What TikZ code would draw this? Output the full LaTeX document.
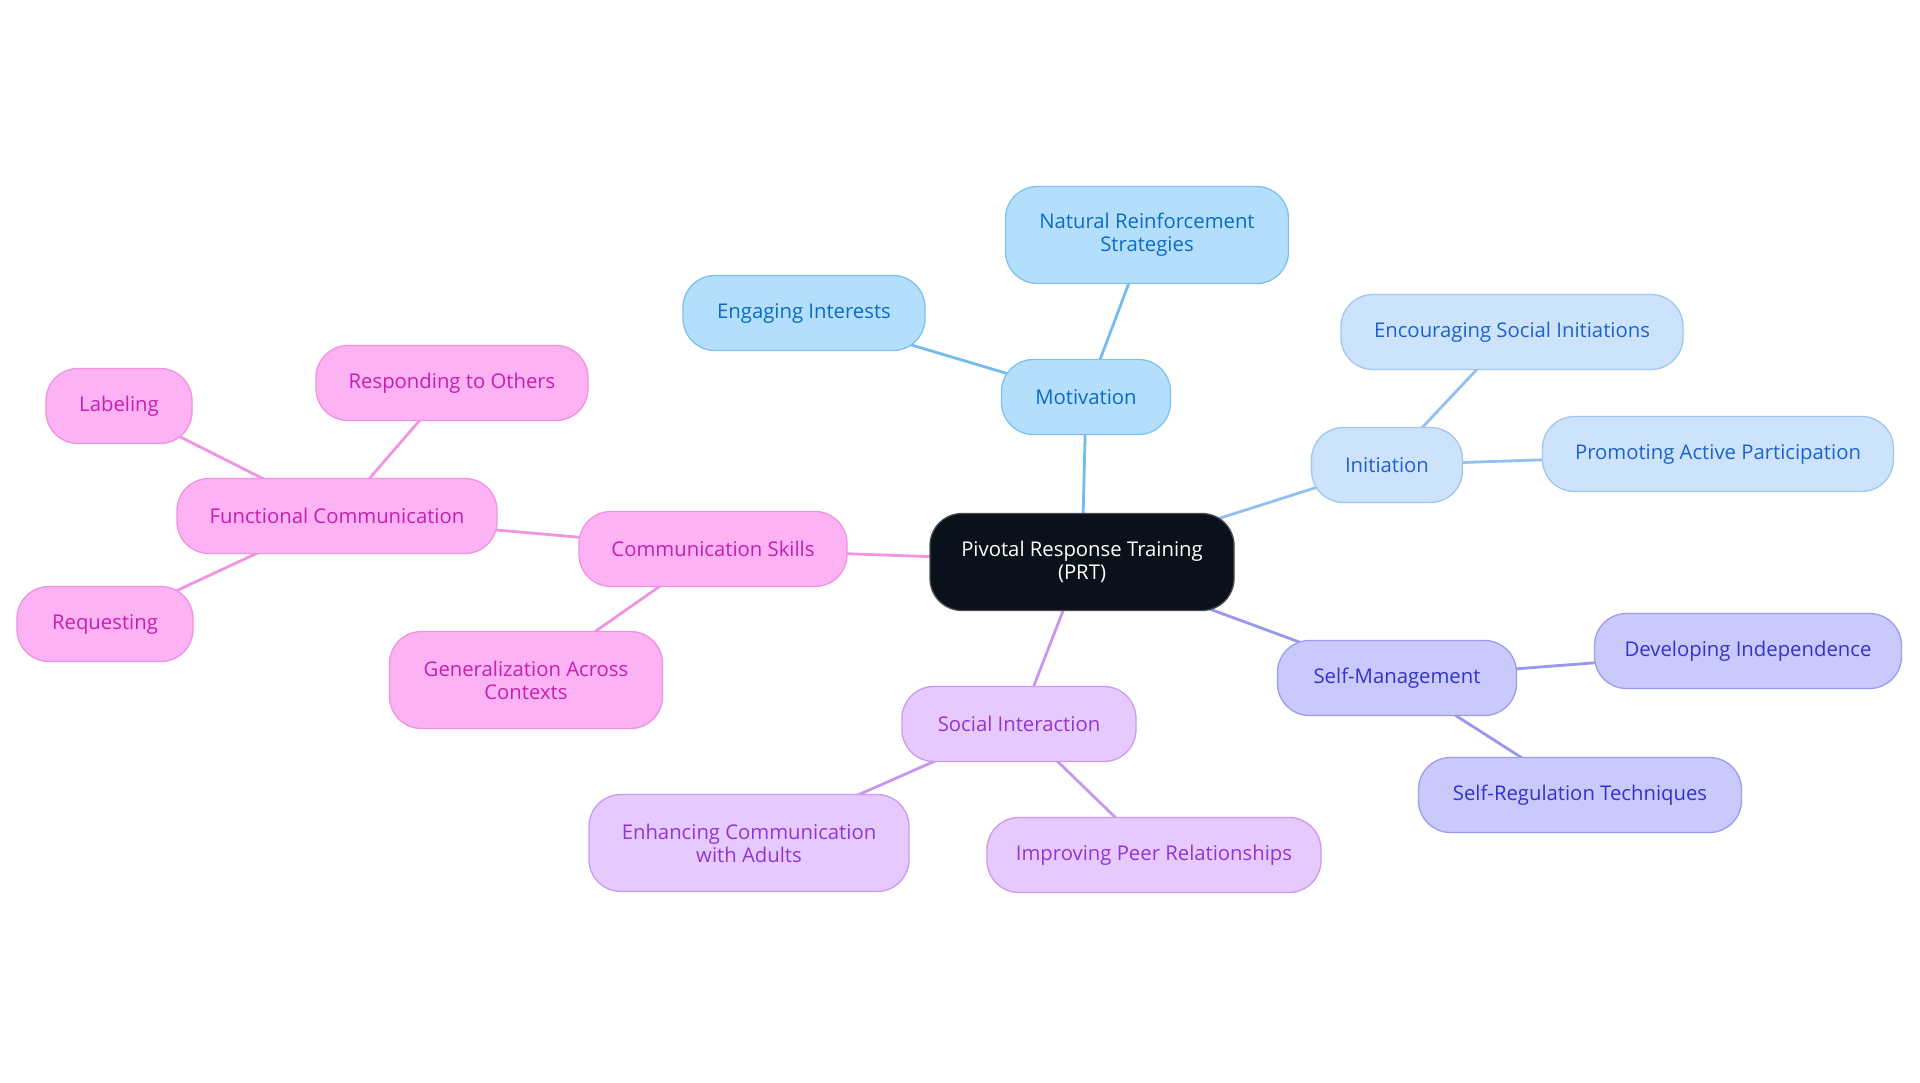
\documentclass[tikz,border=0pt]{standalone}
\usepackage{fontspec}
\setmainfont{Open Sans}
\usetikzlibrary{backgrounds}
\definecolor{cfill}{HTML}{0B111A}
\definecolor{mfill}{HTML}{B3DFFD}\definecolor{mdraw}{HTML}{7DC1F0}\definecolor{mtext}{HTML}{0B6BC4}\definecolor{mline}{HTML}{72BCEE}
\definecolor{ifill}{HTML}{CDE3FB}\definecolor{idraw}{HTML}{A0C7F0}\definecolor{itext}{HTML}{1D62C9}\definecolor{iline}{HTML}{92C0F2}
\definecolor{sfill}{HTML}{C9C9FC}\definecolor{sdraw}{HTML}{9B9CF0}\definecolor{stext}{HTML}{3333CC}\definecolor{sline}{HTML}{9898F2}
\definecolor{pfill}{HTML}{E6CAFD}\definecolor{pdraw}{HTML}{CC99F2}\definecolor{ptext}{HTML}{9234D6}\definecolor{pline}{HTML}{C895F0}
\definecolor{kfill}{HTML}{FDB3F3}\definecolor{kdraw}{HTML}{F191E2}\definecolor{ktext}{HTML}{C71DB3}\definecolor{kline}{HTML}{F294E2}
\tikzset{
  box/.style={rectangle, rounded corners=32pt, line width=1.3pt, align=center, inner sep=0pt,
    minimum height=75pt, font=\fontsize{20.3}{23}\selectfont},
  root/.style={box, fill=cfill, draw=black!70, text=white, minimum height=97pt},
  mot/.style={box, fill=mfill, draw=mdraw, text=mtext},
  ini/.style={box, fill=ifill, draw=idraw, text=itext},
  sm/.style={box, fill=sfill, draw=sdraw, text=stext},
  soc/.style={box, fill=pfill, draw=pdraw, text=ptext},
  com/.style={box, fill=kfill, draw=kdraw, text=ktext},
  tall/.style={minimum height=97pt},
  link/.style={line width=2.8pt},
}
\begin{document}
\begin{tikzpicture}[x=1pt,y=-1pt]
\useasboundingbox (0,0) rectangle (1920,1083);
\node[root, minimum width=304pt] (c) at (1082,562) {Pivotal Response Training\\(PRT)};
\node[mot, minimum width=169pt] (m) at (1086,397) {Motivation};
\node[mot, tall, minimum width=283pt] (nrs) at (1147,235) {Natural Reinforcement\\Strategies};
\node[mot, minimum width=242pt] (eng) at (804,313) {Engaging Interests};
\node[ini, minimum width=151pt] (i) at (1387,465) {Initiation};
\node[ini, minimum width=342pt] (esi) at (1512,332) {Encouraging Social Initiations};
\node[ini, minimum width=351pt] (pap) at (1718,454) {Promoting Active Participation};
\node[sm, minimum width=239pt] (s) at (1397,678) {Self-Management};
\node[sm, minimum width=307pt] (di) at (1748,651) {Developing Independence};
\node[sm, minimum width=323pt] (srt) at (1580,795) {Self-Regulation Techniques};
\node[soc, minimum width=234pt] (si) at (1019,724) {Social Interaction};
\node[soc, tall, minimum width=320pt] (eca) at (749,843) {Enhancing Communication\\with Adults};
\node[soc, minimum width=334pt] (ipr) at (1154,855) {Improving Peer Relationships};
\node[com, minimum width=268pt] (cs) at (713,549) {Communication Skills};
\node[com, minimum width=320pt] (fc) at (337,516) {Functional Communication};
\node[com, tall, minimum width=273pt] (gac) at (526,680) {Generalization Across\\Contexts};
\node[com, minimum width=272pt] (rto) at (452,383) {Responding to Others};
\node[com, minimum width=146pt] (lab) at (119,406) {Labeling};
\node[com, minimum width=176pt] (req) at (105,624) {Requesting};
\begin{scope}[on background layer]
\fill[white] (0,0) rectangle (1920,1083);
\draw[link, mline] (c.center) -- (m.center);
\draw[link, mline] (m.center) -- (nrs.center);
\draw[link, mline] (m.center) -- (eng.center);
\draw[link, iline] (c.center) -- (i.center);
\draw[link, iline] (i.center) -- (esi.center);
\draw[link, iline] (i.center) -- (pap.center);
\draw[link, sline] (c.center) -- (s.center);
\draw[link, sline] (s.center) -- (di.center);
\draw[link, sline] (s.center) -- (srt.center);
\draw[link, pline] (c.center) -- (si.center);
\draw[link, pline] (si.center) -- (eca.center);
\draw[link, pline] (si.center) -- (ipr.center);
\draw[link, kline] (c.center) -- (cs.center);
\draw[link, kline] (cs.center) -- (fc.center);
\draw[link, kline] (cs.center) -- (gac.center);
\draw[link, kline] (fc.center) -- (rto.center);
\draw[link, kline] (fc.center) -- (lab.center);
\draw[link, kline] (fc.center) -- (req.center);
\end{scope}
\end{tikzpicture}
\end{document}
